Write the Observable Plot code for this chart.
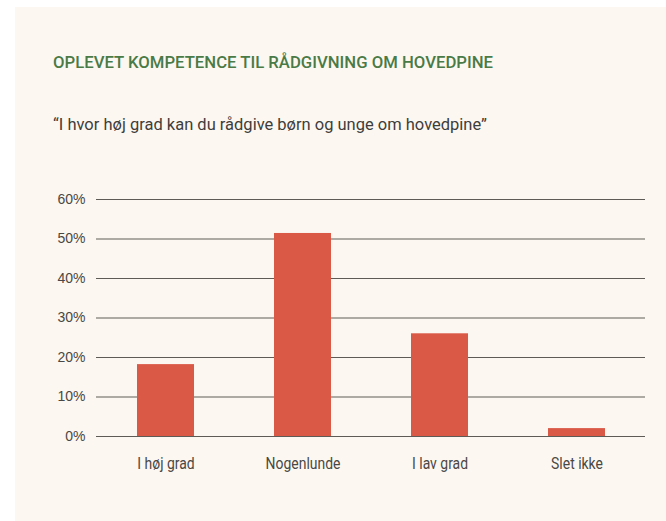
<!DOCTYPE html>
<html>
<head>
<meta charset="utf-8">
<script src="https://cdn.jsdelivr.net/npm/d3@7"></script>
<script src="https://cdn.jsdelivr.net/npm/@observablehq/plot@0.6"></script>
<style>
  html, body { margin: 0; padding: 0; background: #ffffff; }
  body { width: 666px; height: 521px; position: relative; overflow: hidden; }
  #panel { position: absolute; left: 15px; top: 7px; width: 651px; height: 514px; background: #fcf8f1; }
  .head { position: absolute; left: 53px; font-family: Roboto, sans-serif; font-size: 17px; line-height: 20px; white-space: nowrap; transform-origin: 0 0; }
  #title { top: 52px; color: #4a7a46; font-weight: 500; }
  #subtitle { top: 114px; color: #3f3d3b; font-weight: 400; }
  #chart { position: absolute; left: 0; top: 160px; }
</style>
</head>
<body>
<div id="panel"></div>
<div id="title" class="head">OPLEVET KOMPETENCE TIL RÅDGIVNING OM HOVEDPINE</div>
<div id="subtitle" class="head">“I hvor høj grad kan du rådgive børn og unge om hovedpine”</div>
<div id="chart"></div>
<script>
const categories = ["I høj grad", "Nogenlunde", "I lav grad", "Slet ikke"];
const values = [18.2, 51.4, 26.0, 2.0];
const yTicks = [0, 10, 20, 30, 40, 50, 60];

const data = categories.map((c, i) => ({category: c, value: values[i]}));

// condense the header text to the reference's narrow type
function condense(el, target) {
  const w = el.getBoundingClientRect().width;
  el.style.transform = `scaleX(${target / w})`;
}
condense(document.getElementById("title"), 440);
condense(document.getElementById("subtitle"), 434);

const chart = Plot.plot({
  width: 666,
  height: 361,
  marginLeft: 96,
  marginRight: 21,
  marginTop: 39,
  marginBottom: 85,
  style: {background: "transparent", overflow: "visible"},
  x: {domain: categories, paddingInner: 0.585, paddingOuter: 0.2925, label: null},
  y: {domain: [0, 60], ticks: yTicks, label: null},
  marks: [
    Plot.ruleY(yTicks, {stroke: "#5e5a56", strokeWidth: 1.2}),
    Plot.barY(data, {x: "category", y: "value", fill: "#da5846"}),
    Plot.axisY({ticks: yTicks, tickSize: 0, tickPadding: 11, tickFormat: d => d + "%", fontSize: 14, fontFamily: "Liberation Sans, Arial, sans-serif", fill: "#4a4744", label: null}),
    Plot.axisX({tickSize: 0, tickPadding: 20, fontSize: 17, fontFamily: "Roboto, sans-serif", fill: "#4a4744", label: null, ariaLabel: "x-axis"})
  ]
});
document.getElementById("chart").appendChild(chart);

// narrow the x tick labels like the reference's condensed face
d3.select(chart).selectAll('g[aria-label="x-axis tick label"] text, g[aria-label="x-axis"] text').each(function() {
  const t = this.getAttribute("transform") || "";
  this.setAttribute("transform", t + " scale(0.82,1)");
});
</script>
</body>
</html>
